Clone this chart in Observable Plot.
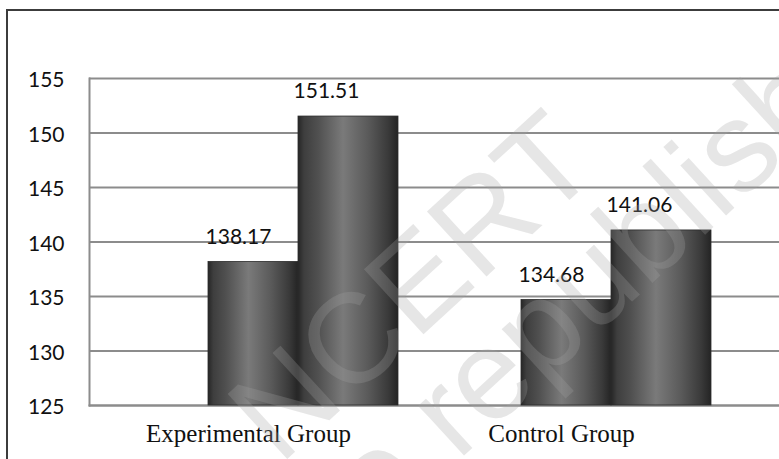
<!DOCTYPE html>
<html>
<head>
<meta charset="utf-8">
<script src="https://cdn.jsdelivr.net/npm/d3@7"></script>
<script src="https://cdn.jsdelivr.net/npm/@observablehq/plot@0.6"></script>
<style>
  html, body { margin: 0; padding: 0; background: #fff; }
  #wrap { position: relative; width: 779px; height: 459px; overflow: hidden; background: #fff; }
  #outer { position: absolute; left: 6px; top: 9px; width: 900px; height: 600px;
           border-left: 2px solid #3c3c3c; border-top: 2px solid #3c3c3c; pointer-events: none; }
  #chart { position: absolute; left: 0; top: 0; }
  #wm { position: absolute; left: 0; top: 0; pointer-events: none; }
</style>
</head>
<body>
<div id="wrap">
  <div id="chart"></div>
  <div id="outer"></div>
  <svg id="wm" width="779" height="459"></svg>
</div>
<script>
// ---- data ----
const groups = ["Experimental Group", "Control Group"];
const preScores = [138.17, 134.68];
const postScores = [151.51, 141.06];
const yTicks = [125, 130, 135, 140, 145, 150, 155];
const watermarkLines = ["NCERT", "not to be republished"];

const rows = groups.map((g, i) => ({group: g, pre: preScores[i], post: postScores[i]}));
const fmt = d3.format(".2f");
const gridColor = "#8c8c8c";

const svg = Plot.plot({
  width: 779,
  height: 459,
  marginLeft: 89,
  marginRight: 0,
  marginTop: 78,
  marginBottom: 54,
  style: {fontFamily: "Lato, 'Open Sans', sans-serif", fontSize: "21px", color: "#111", background: "transparent"},
  x: {domain: groups, paddingInner: 0.394, paddingOuter: 0.2975, align: 0.633},
  y: {domain: [125, 155], ticks: yTicks},
  marks: [
    Plot.gridY(yTicks, {stroke: gridColor, strokeOpacity: 1, strokeWidth: 2}),
    Plot.frame({anchor: "left", stroke: gridColor, strokeWidth: 2}),
    Plot.frame({anchor: "bottom", stroke: gridColor, strokeWidth: 2}),
    Plot.barY(rows, {x: "group", y1: 125, y2: "pre", insetRight: 100,
      fill: "url(#barGrad)", stroke: "#2b2b2b", strokeWidth: 0.8}),
    Plot.barY(rows, {x: "group", y1: 125, y2: "post", insetLeft: 90,
      fill: "url(#barGrad)", stroke: "#2b2b2b", strokeWidth: 0.8}),
    Plot.text(rows, {x: "group", y: "pre", text: d => fmt(d.pre), dx: -65, dy: -25,
      fontSize: 21, fill: "#111"}),
    Plot.text(rows, {x: "group", y: "post", text: d => fmt(d.post), dx: 23, dy: -25,
      fontSize: 21, fill: "#111"}),
    Plot.axisY({ticks: yTicks, tickSize: 0, tickPadding: 25, dy: 2, label: null,
      fontSize: 21, fill: "#111"}),
    Plot.axisX({tickSize: 0, tickPadding: 19, dx: -55, label: null,
      fontSize: 25, fontFamily: "'Liberation Serif', 'Times New Roman', serif", fill: "#111"})
  ]
});

// cylinder-like horizontal shading of the bars
const defs = d3.select(svg).insert("defs", ":first-child");
const grad = defs.append("linearGradient").attr("id", "barGrad")
  .attr("x1", 0).attr("x2", 1).attr("y1", 0).attr("y2", 0);
[[0, "#262626"], [0.06, "#3e3e3e"], [0.2, "#505050"], [0.45, "#7a7a7a"],
 [0.7, "#5a5a5a"], [0.9, "#3a3a3a"], [1, "#242424"]].forEach(([o, c]) =>
  grad.append("stop").attr("offset", o).attr("stop-color", c));

document.getElementById("chart").appendChild(svg);

// faint diagonal watermark
const wm = d3.select("#wm").append("g")
  .attr("transform", "translate(410,284) rotate(-42.5)")
  .attr("fill", "#a2a2a2").attr("fill-opacity", 0.27)
  .attr("font-family", "'Liberation Sans', Arial, sans-serif")
  .attr("font-size", 128).attr("text-anchor", "middle");
wm.append("text").attr("x", 0).attr("y", 46).text(watermarkLines[0]);
wm.append("text").attr("x", -21).attr("y", 163).text(watermarkLines[1]);
</script>
</body>
</html>
